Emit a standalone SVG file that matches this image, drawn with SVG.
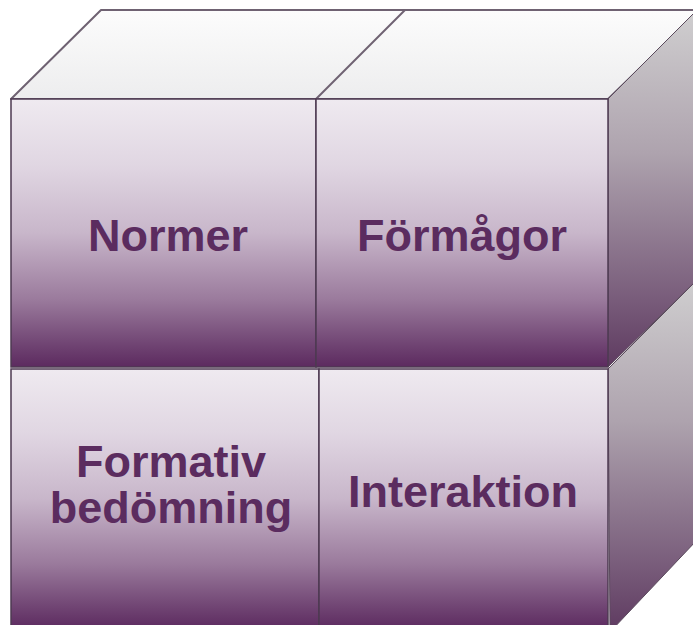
<svg xmlns="http://www.w3.org/2000/svg" width="693" height="625" viewBox="0 0 693 625">
  <defs>
    <linearGradient id="gTop" x1="0" y1="0" x2="0" y2="1">
      <stop offset="0" stop-color="#fcfcfc"/>
      <stop offset="1" stop-color="#ededee"/>
    </linearGradient>
    <linearGradient id="gFront" x1="0" y1="0" x2="0" y2="1">
      <stop offset="0" stop-color="#efeaf0"/>
      <stop offset="0.25" stop-color="#e0d6e2"/>
      <stop offset="0.5" stop-color="#c8b6ca"/>
      <stop offset="0.75" stop-color="#9a7a9c"/>
      <stop offset="0.92" stop-color="#6f4372"/>
      <stop offset="1" stop-color="#5c2a5f"/>
    </linearGradient>
    <linearGradient id="gSide" x1="0" y1="0" x2="0" y2="1">
      <stop offset="0" stop-color="#d0cfd0"/>
      <stop offset="0.4" stop-color="#aea3ae"/>
      <stop offset="0.8" stop-color="#7a5e7c"/>
      <stop offset="1" stop-color="#5e3a60"/>
    </linearGradient>
    <style>
      .front { fill: url(#gFront); stroke: #4e3a52; stroke-width: 1.5; }
      .side { fill: url(#gSide); stroke: #5a4a5c; stroke-width: 1; }
      .top { fill: url(#gTop); stroke: #6f6272; stroke-width: 2; stroke-linejoin: round; }
      .lbl { font-family: "Liberation Sans", Arial, sans-serif; font-weight: bold; font-size: 45px; fill: #5b2c5f; text-anchor: middle; }
    </style>
  </defs>
  <rect width="693" height="625" fill="#ffffff"/>

  <g id="top-face">
    <polygon class="top" points="11,99 101,10 700,10 608,99"/>
    <line x1="316" y1="99" x2="405" y2="10" stroke="#6f6272" stroke-width="2"/>
  </g>

  <g id="side-faces">
    <polygon class="side" points="608,99 697,10 697,280 608,367"/>
    <polygon class="side" points="608,369 697,280 697,540 610,632"/>
  </g>

  <g id="node-normer">
    <rect class="front" x="11" y="99" width="305" height="268"/>
    <text class="lbl" x="168" y="251">Normer</text>
  </g>

  <g id="node-formagor">
    <rect class="front" x="316" y="99" width="292" height="268"/>
    <text class="lbl" x="462" y="251">Förmågor</text>
  </g>

  <g id="node-formativ">
    <rect class="front" x="11" y="369" width="308" height="260"/>
    <text class="lbl" x="171" y="477">Formativ</text>
    <text class="lbl" x="171" y="523">bedömning</text>
  </g>

  <g id="node-interaktion">
    <rect class="front" x="319" y="369" width="289" height="260"/>
    <text class="lbl" x="463" y="507">Interaktion</text>
  </g>

  <g id="connectors"></g>
</svg>
